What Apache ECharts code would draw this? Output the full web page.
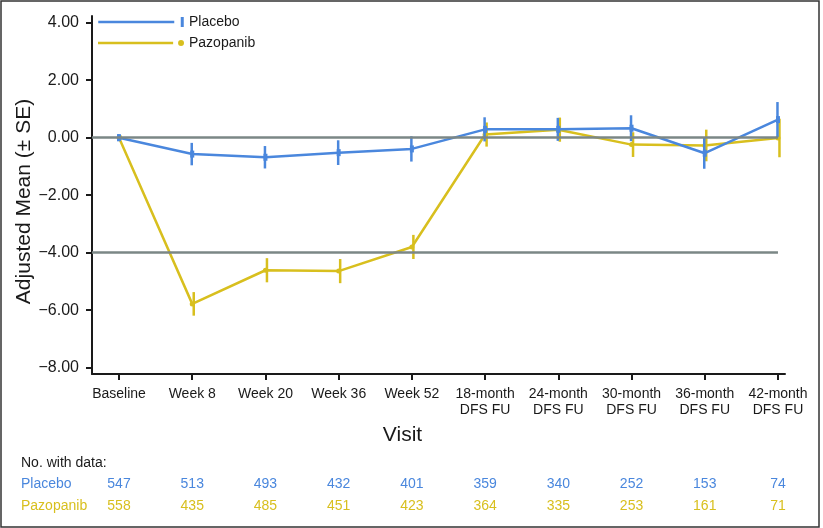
<!DOCTYPE html>
<html>
<head>
<meta charset="utf-8">
<script src="https://cdn.jsdelivr.net/npm/echarts@6/dist/echarts.min.js"></script>
<style>html,body{margin:0;padding:0;background:#fff}#c{width:823px;height:528px}</style>
</head>
<body>
<div id="c"></div>
<script>
const categories = ['Baseline', 'Week 8', 'Week 20', 'Week 36', 'Week 52',
  '18-month\nDFS FU', '24-month\nDFS FU', '30-month\nDFS FU', '36-month\nDFS FU', '42-month\nDFS FU'];
const placeboMean = [0, -0.57, -0.68, -0.52, -0.39, 0.29, 0.29, 0.33, -0.54, 0.63];
const placeboSE = [0.12, 0.39, 0.39, 0.43, 0.44, 0.42, 0.40, 0.45, 0.54, 0.61];
const pazopanibMean = [0, -5.78, -4.61, -4.64, -3.80, 0.11, 0.28, -0.24, -0.27, -0.01];
const pazopanibSE = [0.08, 0.41, 0.42, 0.42, 0.42, 0.42, 0.42, 0.43, 0.55, 0.67];
const placeboN = [547, 513, 493, 432, 401, 359, 340, 252, 153, 74];
const pazopanibN = [558, 435, 485, 451, 423, 364, 335, 253, 161, 71];
const yTicks = [-8, -6, -4, -2, 0, 2, 4];
const refLines = [0, -4];

const BLUE = '#4a87dd';
const YELLOW = '#d8bf1e';
const AXIS = '#1a1a1a';
const FONT = 'Liberation Sans, Arial, sans-serif';
const xIdx = categories.map((c, i) => i);
const X_MIN = -0.369, X_MAX = 9.096;

function errRender(color, dx) {
  return function (params, api) {
    const x = api.value(0), v = api.value(1), se = api.value(2);
    const top = api.coord([x, v + se]);
    const bot = api.coord([x, v - se]);
    return {
      type: 'line',
      shape: { x1: top[0] + dx, y1: top[1], x2: bot[0] + dx, y2: bot[1] },
      style: { stroke: color, lineWidth: 2.5 }
    };
  };
}

function countAxis(counts, color, offset) {
  return {
    type: 'value', gridIndex: 0, position: 'bottom', offset: offset,
    min: X_MIN, max: X_MAX,
    axisLine: { show: false, onZero: false }, axisTick: { show: false }, splitLine: { show: false },
    axisLabel: {
      customValues: xIdx, margin: 8,
      formatter: v => String(counts[Math.round(v)]),
      color: color, fontSize: 14, fontFamily: FONT
    }
  };
}

const chart = echarts.init(document.getElementById('c'), null, { renderer: 'canvas' });
chart.setOption({
  animation: false,
  backgroundColor: '#fff',
  grid: { left: 92, right: 38, top: 16, bottom: 154, containLabel: false },
  legend: {
    orient: 'vertical', left: 98, top: 15, padding: 0,
    itemWidth: 86, itemHeight: 10, itemGap: 7,
    textStyle: { fontSize: 14, color: '#1a1a1a', fontFamily: FONT },
    itemStyle: { borderWidth: 0 },
    data: [
      { name: 'Placebo', icon: 'path://M0,3.8h76v2.4h-76z M82.5,0h3v10h-3z' },
      { name: 'Pazopanib', icon: 'path://M0,0h0.01v0.01h-0.01z M0,3.8h76v2.4h-76z M81,5a3,3 0 1,0 6,0a3,3 0 1,0 -6,0z M86,9.99h0.01v0.01h-0.01z' }
    ]
  },
  xAxis: [
    {
      type: 'value', min: X_MIN, max: X_MAX,
      name: 'Visit', nameLocation: 'middle', nameGap: 51, nameMoveOverlap: false,
      nameTextStyle: { fontSize: 21, color: '#1a1a1a', fontFamily: FONT, padding: [0, 72, 0, 0] },
      axisLine: { onZero: false, lineStyle: { color: AXIS, width: 2 } },
      axisTick: { customValues: xIdx, length: 6, lineStyle: { color: AXIS, width: 2 } },
      axisLabel: {
        customValues: xIdx, margin: 12, lineHeight: 16,
        formatter: v => categories[Math.round(v)],
        color: '#1a1a1a', fontSize: 14, fontFamily: FONT
      },
      splitLine: { show: false }
    },
    countAxis(placeboN, BLUE, 95),
    countAxis(pazopanibN, YELLOW, 117)
  ],
  yAxis: {
    type: 'value', min: -8.219, max: 4.233,
    name: 'Adjusted Mean (± SE)', nameLocation: 'middle', nameGap: 57, nameMoveOverlap: false,
    nameTextStyle: { fontSize: 21, color: '#1a1a1a', fontFamily: FONT, padding: [0, 13, 0, 0] },
    axisLine: { onZero: false, lineStyle: { color: AXIS, width: 2 } },
    axisTick: { customValues: yTicks, length: 6, lineStyle: { color: AXIS, width: 2 } },
    axisLabel: {
      customValues: yTicks, margin: 13,
      formatter: v => (v < 0 ? '\u2212' : '') + Math.abs(v).toFixed(2),
      color: '#1a1a1a', fontSize: 16, fontFamily: FONT
    },
    splitLine: { show: false }
  },
  series: [
    {
      name: 'ref', type: 'line', data: [], silent: true, z: 1,
      markLine: {
        silent: true, symbol: 'none', label: { show: false },
        lineStyle: { color: '#7b8786', width: 2.5, type: 'solid' },
        data: refLines.map(v => [{ coord: [X_MIN, v] }, { coord: [9, v] }])
      }
    },
    {
      name: 'Pazopanib', type: 'line', z: 3,
      data: pazopanibMean.map((v, i) => [i, v]),
      symbol: 'circle', symbolSize: 5, showAllSymbol: true,
      itemStyle: { color: YELLOW, borderWidth: 0 },
      lineStyle: { color: YELLOW, width: 2.5 }
    },
    {
      name: 'Pazopanib SE', type: 'custom', z: 3,
      renderItem: errRender(YELLOW, 1.5),
      encode: { x: 0, y: 1 },
      data: pazopanibMean.map((v, i) => [i, v, pazopanibSE[i]])
    },
    {
      name: 'Placebo', type: 'line', z: 4,
      data: placeboMean.map((v, i) => [i, v]),
      symbol: 'rect', symbolSize: [4, 7], showAllSymbol: true,
      itemStyle: { color: BLUE, borderWidth: 0 },
      lineStyle: { color: BLUE, width: 2.5 }
    },
    {
      name: 'Placebo SE', type: 'custom', z: 4,
      renderItem: errRender(BLUE, -0.5),
      encode: { x: 0, y: 1 },
      data: placeboMean.map((v, i) => [i, v, placeboSE[i]])
    }
  ],
  graphic: [
    { type: 'rect', shape: { x: 1, y: 1, width: 818, height: 526 }, style: { fill: 'none', stroke: '#333', lineWidth: 1.5 }, silent: true },
    { type: 'text', left: 21, top: 456, style: { text: 'No. with data:', fill: '#1a1a1a', fontSize: 14, fontFamily: FONT } },
    { type: 'text', left: 21, top: 477, style: { text: 'Placebo', fill: BLUE, fontSize: 14, fontFamily: FONT } },
    { type: 'text', left: 21, top: 499, style: { text: 'Pazopanib', fill: YELLOW, fontSize: 14, fontFamily: FONT } }
  ]
});
</script>
</body>
</html>
